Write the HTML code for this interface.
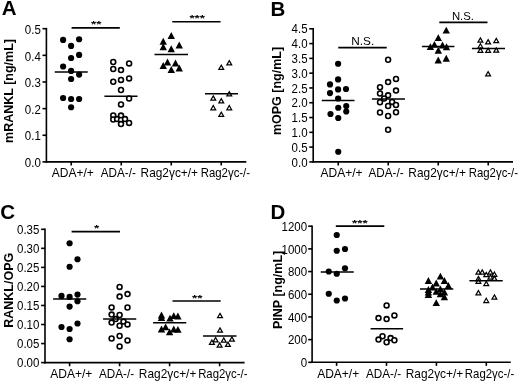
<!DOCTYPE html>
<html><head><meta charset="utf-8"><title>Figure</title>
<style>
html,body{margin:0;padding:0;background:#fff;}
body{width:520px;height:386px;overflow:hidden;}
svg{display:block;filter:blur(0.4px);font-family:'Liberation Sans', Arial, sans-serif;fill:#000;}
</style></head><body>
<svg width="520" height="386" viewBox="0 0 520 386">
<rect width="520" height="386" fill="#fff"/>
<path d="M46.4 27.9V162.7" stroke="#000" stroke-width="1.6" fill="none"/>
<path d="M45.6 161.9H246.3" stroke="#000" stroke-width="1.6" fill="none"/>
<path d="M42.5 161.9H46.4" stroke="#000" stroke-width="1.6" fill="none"/>
<text transform="translate(40.8 167.1) scale(0.92 1)" font-size="12.5" text-anchor="end">0.0</text>
<path d="M42.5 135.26H46.4" stroke="#000" stroke-width="1.6" fill="none"/>
<text transform="translate(40.8 140.46) scale(0.92 1)" font-size="12.5" text-anchor="end">0.1</text>
<path d="M42.5 108.62H46.4" stroke="#000" stroke-width="1.6" fill="none"/>
<text transform="translate(40.8 113.82) scale(0.92 1)" font-size="12.5" text-anchor="end">0.2</text>
<path d="M42.5 81.98H46.4" stroke="#000" stroke-width="1.6" fill="none"/>
<text transform="translate(40.8 87.18) scale(0.92 1)" font-size="12.5" text-anchor="end">0.3</text>
<path d="M42.5 55.34H46.4" stroke="#000" stroke-width="1.6" fill="none"/>
<text transform="translate(40.8 60.54) scale(0.92 1)" font-size="12.5" text-anchor="end">0.4</text>
<path d="M42.5 28.7H46.4" stroke="#000" stroke-width="1.6" fill="none"/>
<text transform="translate(40.8 33.9) scale(0.92 1)" font-size="12.5" text-anchor="end">0.5</text>
<path d="M71.25 161.9V165.5" stroke="#000" stroke-width="1.6" fill="none"/>
<path d="M121.25 161.9V165.5" stroke="#000" stroke-width="1.6" fill="none"/>
<path d="M171.25 161.9V165.5" stroke="#000" stroke-width="1.6" fill="none"/>
<path d="M221.25 161.9V165.5" stroke="#000" stroke-width="1.6" fill="none"/>
<text x="72.8" y="177.2" font-size="12" text-anchor="middle">ADA+/+</text>
<text transform="translate(118.3 177.2) scale(0.975 1)" font-size="12" text-anchor="middle">ADA-/-</text>
<text transform="translate(169.3 177.2) scale(0.99 1)" font-size="12" text-anchor="middle">Rag2γc+/+</text>
<text transform="translate(225.4 177.2) scale(0.95 1)" font-size="12" text-anchor="middle">Rag2γc-/-</text>
<text x="1.8" y="15.2" font-size="20.5" text-anchor="start" font-weight="bold">A</text>
<text transform="translate(12.6 91) rotate(-90)" font-size="12.5" font-weight="bold" text-anchor="middle">mRANKL [ng/mL]</text>
<circle cx="63.1" cy="39.9" r="3.1"/>
<circle cx="79.1" cy="39.25" r="3.1"/>
<circle cx="71.1" cy="45.9" r="3.1"/>
<circle cx="79.1" cy="54.9" r="3.1"/>
<circle cx="71.1" cy="58" r="3.1"/>
<circle cx="63.1" cy="66.5" r="3.1"/>
<circle cx="71.1" cy="70.9" r="3.1"/>
<circle cx="79.1" cy="74.6" r="3.1"/>
<circle cx="71.1" cy="79" r="3.1"/>
<circle cx="63.1" cy="98" r="3.1"/>
<circle cx="71.1" cy="99" r="3.1"/>
<circle cx="79.1" cy="99" r="3.1"/>
<circle cx="71.1" cy="107.25" r="3.1"/>
<path d="M54.75 72H87.75" stroke="#000" stroke-width="1.5" fill="none"/>
<circle cx="113.25" cy="62" r="2.45" fill="#fff" stroke="#000" stroke-width="1.6"/>
<circle cx="129.1" cy="63.4" r="2.45" fill="#fff" stroke="#000" stroke-width="1.6"/>
<circle cx="113.25" cy="69" r="2.45" fill="#fff" stroke="#000" stroke-width="1.6"/>
<circle cx="121" cy="70.1" r="2.45" fill="#fff" stroke="#000" stroke-width="1.6"/>
<circle cx="121" cy="79.9" r="2.45" fill="#fff" stroke="#000" stroke-width="1.6"/>
<circle cx="113.25" cy="81.75" r="2.45" fill="#fff" stroke="#000" stroke-width="1.6"/>
<circle cx="129.1" cy="78.4" r="2.45" fill="#fff" stroke="#000" stroke-width="1.6"/>
<circle cx="121" cy="90" r="2.45" fill="#fff" stroke="#000" stroke-width="1.6"/>
<circle cx="129.1" cy="98.5" r="2.45" fill="#fff" stroke="#000" stroke-width="1.6"/>
<circle cx="121" cy="104.4" r="2.45" fill="#fff" stroke="#000" stroke-width="1.6"/>
<circle cx="113.25" cy="115.4" r="2.45" fill="#fff" stroke="#000" stroke-width="1.6"/>
<circle cx="121" cy="115.6" r="2.45" fill="#fff" stroke="#000" stroke-width="1.6"/>
<circle cx="113.25" cy="119.5" r="2.45" fill="#fff" stroke="#000" stroke-width="1.6"/>
<circle cx="117.1" cy="119.1" r="2.45" fill="#fff" stroke="#000" stroke-width="1.6"/>
<circle cx="121" cy="120" r="2.45" fill="#fff" stroke="#000" stroke-width="1.6"/>
<circle cx="125" cy="119.1" r="2.45" fill="#fff" stroke="#000" stroke-width="1.6"/>
<circle cx="121" cy="124.1" r="2.45" fill="#fff" stroke="#000" stroke-width="1.6"/>
<circle cx="129.1" cy="122.9" r="2.45" fill="#fff" stroke="#000" stroke-width="1.6"/>
<path d="M104.4 96.25H137.5" stroke="#000" stroke-width="1.5" fill="none"/>
<path d="M171.25 32.05L174.95 38.95H167.55Z"/>
<path d="M163.25 37.8L166.95 44.7H159.55Z"/>
<path d="M163.25 43.35L166.95 50.25H159.55Z"/>
<path d="M179.25 41.55L182.95 48.45H175.55Z"/>
<path d="M171.25 45.3L174.95 52.2H167.55Z"/>
<path d="M167.5 58.55L171.2 65.45H163.8Z"/>
<path d="M163.25 62.05L166.95 68.95H159.55Z"/>
<path d="M175.5 59.55L179.2 66.45H171.8Z"/>
<path d="M171.25 66.05L174.95 72.95H167.55Z"/>
<path d="M179.25 64.55L182.95 71.45H175.55Z"/>
<path d="M154.5 54.5H188" stroke="#000" stroke-width="1.5" fill="none"/>
<path d="M221.25 65.16L223.7 69.46H218.8Z" fill="#fff" stroke="#000" stroke-width="1.2" stroke-linejoin="miter"/>
<path d="M229.25 60.66L231.7 64.96H226.8Z" fill="#fff" stroke="#000" stroke-width="1.2" stroke-linejoin="miter"/>
<path d="M229.25 91.66L231.7 95.96H226.8Z" fill="#fff" stroke="#000" stroke-width="1.2" stroke-linejoin="miter"/>
<path d="M213.25 95.86L215.7 100.16H210.8Z" fill="#fff" stroke="#000" stroke-width="1.2" stroke-linejoin="miter"/>
<path d="M221.25 98.66L223.7 102.96H218.8Z" fill="#fff" stroke="#000" stroke-width="1.2" stroke-linejoin="miter"/>
<path d="M213.25 105.56L215.7 109.86H210.8Z" fill="#fff" stroke="#000" stroke-width="1.2" stroke-linejoin="miter"/>
<path d="M229.25 105.56L231.7 109.86H226.8Z" fill="#fff" stroke="#000" stroke-width="1.2" stroke-linejoin="miter"/>
<path d="M221.25 112.16L223.7 116.46H218.8Z" fill="#fff" stroke="#000" stroke-width="1.2" stroke-linejoin="miter"/>
<path d="M205 93.75H238" stroke="#000" stroke-width="1.5" fill="none"/>
<path d="M71.6 27.8H119.8" stroke="#000" stroke-width="1.8" fill="none"/>
<text transform="translate(96.2 27.2) scale(1.03 0.7)" font-size="13" font-weight="bold" text-anchor="middle">**</text>
<path d="M172.3 21.7H220.6" stroke="#000" stroke-width="1.6" fill="none"/>
<text transform="translate(197.2 21.1) scale(1.03 0.7)" font-size="13" font-weight="bold" text-anchor="middle">***</text>
<path d="M313.2 28V162.7" stroke="#000" stroke-width="1.6" fill="none"/>
<path d="M312.4 161.9H513" stroke="#000" stroke-width="1.6" fill="none"/>
<path d="M309.3 161.9H313.2" stroke="#000" stroke-width="1.6" fill="none"/>
<text transform="translate(307.6 166.5) scale(0.92 1)" font-size="12.5" text-anchor="end">0.0</text>
<path d="M309.3 147.11H313.2" stroke="#000" stroke-width="1.6" fill="none"/>
<text transform="translate(307.6 151.71) scale(0.92 1)" font-size="12.5" text-anchor="end">0.5</text>
<path d="M309.3 132.32H313.2" stroke="#000" stroke-width="1.6" fill="none"/>
<text transform="translate(307.6 136.92) scale(0.92 1)" font-size="12.5" text-anchor="end">1.0</text>
<path d="M309.3 117.53H313.2" stroke="#000" stroke-width="1.6" fill="none"/>
<text transform="translate(307.6 122.13) scale(0.92 1)" font-size="12.5" text-anchor="end">1.5</text>
<path d="M309.3 102.74H313.2" stroke="#000" stroke-width="1.6" fill="none"/>
<text transform="translate(307.6 107.34) scale(0.92 1)" font-size="12.5" text-anchor="end">2.0</text>
<path d="M309.3 87.96H313.2" stroke="#000" stroke-width="1.6" fill="none"/>
<text transform="translate(307.6 92.56) scale(0.92 1)" font-size="12.5" text-anchor="end">2.5</text>
<path d="M309.3 73.17H313.2" stroke="#000" stroke-width="1.6" fill="none"/>
<text transform="translate(307.6 77.77) scale(0.92 1)" font-size="12.5" text-anchor="end">3.0</text>
<path d="M309.3 58.38H313.2" stroke="#000" stroke-width="1.6" fill="none"/>
<text transform="translate(307.6 62.98) scale(0.92 1)" font-size="12.5" text-anchor="end">3.5</text>
<path d="M309.3 43.59H313.2" stroke="#000" stroke-width="1.6" fill="none"/>
<text transform="translate(307.6 48.19) scale(0.92 1)" font-size="12.5" text-anchor="end">4.0</text>
<path d="M309.3 28.8H313.2" stroke="#000" stroke-width="1.6" fill="none"/>
<text transform="translate(307.6 33.4) scale(0.92 1)" font-size="12.5" text-anchor="end">4.5</text>
<path d="M338.25 161.9V165.5" stroke="#000" stroke-width="1.6" fill="none"/>
<path d="M388.25 161.9V165.5" stroke="#000" stroke-width="1.6" fill="none"/>
<path d="M438.25 161.9V165.5" stroke="#000" stroke-width="1.6" fill="none"/>
<path d="M488.25 161.9V165.5" stroke="#000" stroke-width="1.6" fill="none"/>
<text x="341.6" y="177" font-size="12" text-anchor="middle">ADA+/+</text>
<text transform="translate(386 177) scale(0.975 1)" font-size="12" text-anchor="middle">ADA-/-</text>
<text transform="translate(437.1 177) scale(0.99 1)" font-size="12" text-anchor="middle">Rag2γc+/+</text>
<text transform="translate(493.4 177) scale(0.95 1)" font-size="12" text-anchor="middle">Rag2γc-/-</text>
<text x="270.5" y="15.6" font-size="20.5" text-anchor="start" font-weight="bold">B</text>
<text transform="translate(281.4 91) rotate(-90)" font-size="12.5" font-weight="bold" text-anchor="middle">mOPG [ng/mL]</text>
<circle cx="338.1" cy="63.75" r="3.1"/>
<circle cx="338.1" cy="79.4" r="3.1"/>
<circle cx="330" cy="84.4" r="3.1"/>
<circle cx="338.1" cy="89.4" r="3.1"/>
<circle cx="346" cy="89" r="3.1"/>
<circle cx="330" cy="93.1" r="3.1"/>
<circle cx="338.1" cy="98.5" r="3.1"/>
<circle cx="338.25" cy="107.75" r="3.1"/>
<circle cx="346.25" cy="106" r="3.1"/>
<circle cx="346.25" cy="111.5" r="3.1"/>
<circle cx="330.5" cy="114" r="3.1"/>
<circle cx="338.25" cy="118" r="3.1"/>
<circle cx="338.25" cy="151.75" r="3.1"/>
<path d="M321.75 100.5H354.5" stroke="#000" stroke-width="1.5" fill="none"/>
<circle cx="388.1" cy="59.75" r="2.45" fill="#fff" stroke="#000" stroke-width="1.6"/>
<circle cx="396" cy="79" r="2.45" fill="#fff" stroke="#000" stroke-width="1.6"/>
<circle cx="388.1" cy="82.1" r="2.45" fill="#fff" stroke="#000" stroke-width="1.6"/>
<circle cx="380" cy="87.25" r="2.45" fill="#fff" stroke="#000" stroke-width="1.6"/>
<circle cx="396" cy="90.6" r="2.45" fill="#fff" stroke="#000" stroke-width="1.6"/>
<circle cx="380" cy="93.5" r="2.45" fill="#fff" stroke="#000" stroke-width="1.6"/>
<circle cx="388.1" cy="95.3" r="2.45" fill="#fff" stroke="#000" stroke-width="1.6"/>
<circle cx="384.1" cy="98.5" r="2.45" fill="#fff" stroke="#000" stroke-width="1.6"/>
<circle cx="380" cy="102.25" r="2.45" fill="#fff" stroke="#000" stroke-width="1.6"/>
<circle cx="392.1" cy="101.9" r="2.45" fill="#fff" stroke="#000" stroke-width="1.6"/>
<circle cx="396" cy="105" r="2.45" fill="#fff" stroke="#000" stroke-width="1.6"/>
<circle cx="388.1" cy="106" r="2.45" fill="#fff" stroke="#000" stroke-width="1.6"/>
<circle cx="380" cy="112.5" r="2.45" fill="#fff" stroke="#000" stroke-width="1.6"/>
<circle cx="396" cy="112.25" r="2.45" fill="#fff" stroke="#000" stroke-width="1.6"/>
<circle cx="388.1" cy="116" r="2.45" fill="#fff" stroke="#000" stroke-width="1.6"/>
<circle cx="388.1" cy="129.75" r="2.45" fill="#fff" stroke="#000" stroke-width="1.6"/>
<path d="M371.9 99.1H405" stroke="#000" stroke-width="1.5" fill="none"/>
<path d="M446.25 26.65L449.95 33.55H442.55Z"/>
<path d="M438.3 34.15L442 41.05H434.6Z"/>
<path d="M430.4 43.15L434.1 50.05H426.7Z"/>
<path d="M434.4 40.95L438.1 47.85H430.7Z"/>
<path d="M442.5 41.55L446.2 48.45H438.8Z"/>
<path d="M446.5 43.35L450.2 50.25H442.8Z"/>
<path d="M438.3 46.85L442 53.75H434.6Z"/>
<path d="M438.25 56.55L441.95 63.45H434.55Z"/>
<path d="M446.25 54.8L449.95 61.7H442.55Z"/>
<path d="M421.9 46.6H454.4" stroke="#000" stroke-width="1.5" fill="none"/>
<path d="M480.4 37.91L482.85 42.21H477.95Z" fill="#fff" stroke="#000" stroke-width="1.2" stroke-linejoin="miter"/>
<path d="M488.1 39.66L490.55 43.96H485.65Z" fill="#fff" stroke="#000" stroke-width="1.2" stroke-linejoin="miter"/>
<path d="M496.25 38.41L498.7 42.71H493.8Z" fill="#fff" stroke="#000" stroke-width="1.2" stroke-linejoin="miter"/>
<path d="M480.4 43.76L482.85 48.06H477.95Z" fill="#fff" stroke="#000" stroke-width="1.2" stroke-linejoin="miter"/>
<path d="M480.4 48.16L482.85 52.46H477.95Z" fill="#fff" stroke="#000" stroke-width="1.2" stroke-linejoin="miter"/>
<path d="M488.1 48.16L490.55 52.46H485.65Z" fill="#fff" stroke="#000" stroke-width="1.2" stroke-linejoin="miter"/>
<path d="M496.25 47.91L498.7 52.21H493.8Z" fill="#fff" stroke="#000" stroke-width="1.2" stroke-linejoin="miter"/>
<path d="M488.1 71.66L490.55 75.96H485.65Z" fill="#fff" stroke="#000" stroke-width="1.2" stroke-linejoin="miter"/>
<path d="M471.9 48.6H505" stroke="#000" stroke-width="1.5" fill="none"/>
<path d="M338.25 47.6H386.75" stroke="#000" stroke-width="1.6" fill="none"/>
<text x="362.8" y="45.3" font-size="11.8" text-anchor="middle">N.S.</text>
<path d="M439.3 22.4H487.5" stroke="#000" stroke-width="1.6" fill="none"/>
<text x="462.9" y="20.2" font-size="11.3" text-anchor="middle">N.S.</text>
<path d="M45 228.5V363.4" stroke="#000" stroke-width="1.6" fill="none"/>
<path d="M44.2 362.6H244.6" stroke="#000" stroke-width="1.6" fill="none"/>
<path d="M41.1 362.6H45" stroke="#000" stroke-width="1.6" fill="none"/>
<text transform="translate(39.4 367.2) scale(0.92 1)" font-size="12.5" text-anchor="end">0.00</text>
<path d="M41.1 343.56H45" stroke="#000" stroke-width="1.6" fill="none"/>
<text transform="translate(39.4 348.16) scale(0.92 1)" font-size="12.5" text-anchor="end">0.05</text>
<path d="M41.1 324.51H45" stroke="#000" stroke-width="1.6" fill="none"/>
<text transform="translate(39.4 329.11) scale(0.92 1)" font-size="12.5" text-anchor="end">0.10</text>
<path d="M41.1 305.47H45" stroke="#000" stroke-width="1.6" fill="none"/>
<text transform="translate(39.4 310.07) scale(0.92 1)" font-size="12.5" text-anchor="end">0.15</text>
<path d="M41.1 286.43H45" stroke="#000" stroke-width="1.6" fill="none"/>
<text transform="translate(39.4 291.03) scale(0.92 1)" font-size="12.5" text-anchor="end">0.20</text>
<path d="M41.1 267.39H45" stroke="#000" stroke-width="1.6" fill="none"/>
<text transform="translate(39.4 271.99) scale(0.92 1)" font-size="12.5" text-anchor="end">0.25</text>
<path d="M41.1 248.34H45" stroke="#000" stroke-width="1.6" fill="none"/>
<text transform="translate(39.4 252.94) scale(0.92 1)" font-size="12.5" text-anchor="end">0.30</text>
<path d="M41.1 229.3H45" stroke="#000" stroke-width="1.6" fill="none"/>
<text transform="translate(39.4 233.9) scale(0.92 1)" font-size="12.5" text-anchor="end">0.35</text>
<path d="M69.6 362.6V366.2" stroke="#000" stroke-width="1.6" fill="none"/>
<path d="M119.6 362.6V366.2" stroke="#000" stroke-width="1.6" fill="none"/>
<path d="M169.6 362.6V366.2" stroke="#000" stroke-width="1.6" fill="none"/>
<path d="M219.6 362.6V366.2" stroke="#000" stroke-width="1.6" fill="none"/>
<text x="71.3" y="377.5" font-size="12" text-anchor="middle">ADA+/+</text>
<text transform="translate(116.6 377.5) scale(0.975 1)" font-size="12" text-anchor="middle">ADA-/-</text>
<text transform="translate(167.6 377.5) scale(0.99 1)" font-size="12" text-anchor="middle">Rag2γc+/+</text>
<text transform="translate(222.8 377.5) scale(0.95 1)" font-size="12" text-anchor="middle">Rag2γc-/-</text>
<text x="0.3" y="219.1" font-size="20.5" text-anchor="start" font-weight="bold">C</text>
<text transform="translate(12.5 290.3) rotate(-90)" font-size="12.5" font-weight="bold" text-anchor="middle">RANKL/OPG</text>
<circle cx="69.6" cy="243.25" r="3.1"/>
<circle cx="77.5" cy="259.25" r="3.1"/>
<circle cx="69.6" cy="266.75" r="3.1"/>
<circle cx="61.5" cy="295.9" r="3.1"/>
<circle cx="69.6" cy="296.9" r="3.1"/>
<circle cx="77.5" cy="294.6" r="3.1"/>
<circle cx="77.5" cy="301.25" r="3.1"/>
<circle cx="69.6" cy="306.6" r="3.1"/>
<circle cx="77.5" cy="323.5" r="3.1"/>
<circle cx="61.5" cy="327" r="3.1"/>
<circle cx="69.6" cy="329" r="3.1"/>
<circle cx="69.6" cy="339.25" r="3.1"/>
<path d="M53.1 299H86.25" stroke="#000" stroke-width="1.5" fill="none"/>
<circle cx="119.6" cy="286.9" r="2.45" fill="#fff" stroke="#000" stroke-width="1.6"/>
<circle cx="127.5" cy="294.1" r="2.45" fill="#fff" stroke="#000" stroke-width="1.6"/>
<circle cx="119.6" cy="296.6" r="2.45" fill="#fff" stroke="#000" stroke-width="1.6"/>
<circle cx="111.6" cy="307.4" r="2.45" fill="#fff" stroke="#000" stroke-width="1.6"/>
<circle cx="127.5" cy="307.5" r="2.45" fill="#fff" stroke="#000" stroke-width="1.6"/>
<circle cx="111.6" cy="314.6" r="2.45" fill="#fff" stroke="#000" stroke-width="1.6"/>
<circle cx="119.6" cy="315" r="2.45" fill="#fff" stroke="#000" stroke-width="1.6"/>
<circle cx="115.6" cy="319.1" r="2.45" fill="#fff" stroke="#000" stroke-width="1.6"/>
<circle cx="111.6" cy="322.6" r="2.45" fill="#fff" stroke="#000" stroke-width="1.6"/>
<circle cx="123.5" cy="321.6" r="2.45" fill="#fff" stroke="#000" stroke-width="1.6"/>
<circle cx="127.5" cy="324.4" r="2.45" fill="#fff" stroke="#000" stroke-width="1.6"/>
<circle cx="119.6" cy="325.75" r="2.45" fill="#fff" stroke="#000" stroke-width="1.6"/>
<circle cx="111.6" cy="338.5" r="2.45" fill="#fff" stroke="#000" stroke-width="1.6"/>
<circle cx="119.6" cy="336" r="2.45" fill="#fff" stroke="#000" stroke-width="1.6"/>
<circle cx="127.5" cy="340.4" r="2.45" fill="#fff" stroke="#000" stroke-width="1.6"/>
<circle cx="119.6" cy="346.4" r="2.45" fill="#fff" stroke="#000" stroke-width="1.6"/>
<path d="M103.1 318.9H136.25" stroke="#000" stroke-width="1.5" fill="none"/>
<path d="M161.5 311.55L165.2 318.45H157.8Z"/>
<path d="M161.5 314.05L165.2 320.95H157.8Z"/>
<path d="M170 314.65L173.7 321.55H166.3Z"/>
<path d="M173.75 312.15L177.45 319.05H170.05Z"/>
<path d="M177.9 312.55L181.6 319.45H174.2Z"/>
<path d="M161.5 325.55L165.2 332.45H157.8Z"/>
<path d="M165.6 323.45L169.3 330.35H161.9Z"/>
<path d="M169.6 328.45L173.3 335.35H165.9Z"/>
<path d="M173.75 325.55L177.45 332.45H170.05Z"/>
<path d="M177.9 325.95L181.6 332.85H174.2Z"/>
<path d="M153.1 322.75H186.25" stroke="#000" stroke-width="1.5" fill="none"/>
<path d="M220 313.41L222.45 317.71H217.55Z" fill="#fff" stroke="#000" stroke-width="1.2" stroke-linejoin="miter"/>
<path d="M220 327.91L222.45 332.21H217.55Z" fill="#fff" stroke="#000" stroke-width="1.2" stroke-linejoin="miter"/>
<path d="M215.6 337.56L218.05 341.86H213.15Z" fill="#fff" stroke="#000" stroke-width="1.2" stroke-linejoin="miter"/>
<path d="M223.75 337.91L226.2 342.21H221.3Z" fill="#fff" stroke="#000" stroke-width="1.2" stroke-linejoin="miter"/>
<path d="M231.9 336.91L234.35 341.21H229.45Z" fill="#fff" stroke="#000" stroke-width="1.2" stroke-linejoin="miter"/>
<path d="M211.9 340.06L214.35 344.36H209.45Z" fill="#fff" stroke="#000" stroke-width="1.2" stroke-linejoin="miter"/>
<path d="M219.6 342.91L222.05 347.21H217.15Z" fill="#fff" stroke="#000" stroke-width="1.2" stroke-linejoin="miter"/>
<path d="M227.9 342.16L230.35 346.46H225.45Z" fill="#fff" stroke="#000" stroke-width="1.2" stroke-linejoin="miter"/>
<path d="M203.1 335.9H236.5" stroke="#000" stroke-width="1.5" fill="none"/>
<path d="M71.6 231.7H120" stroke="#000" stroke-width="1.7" fill="none"/>
<text transform="translate(96.5 231.1) scale(1.03 0.7)" font-size="13" font-weight="bold" text-anchor="middle">*</text>
<path d="M172.5 301H220.7" stroke="#000" stroke-width="1.7" fill="none"/>
<text transform="translate(197.3 300.9) scale(1.03 0.7)" font-size="13" font-weight="bold" text-anchor="middle">**</text>
<path d="M312.1 225.4V363.1" stroke="#000" stroke-width="1.6" fill="none"/>
<path d="M311.3 362.3H510.8" stroke="#000" stroke-width="1.6" fill="none"/>
<path d="M308.2 362.3H312.1" stroke="#000" stroke-width="1.6" fill="none"/>
<text transform="translate(307.1 367.1) scale(0.92 1)" font-size="12.5" text-anchor="end">0</text>
<path d="M308.2 339.62H312.1" stroke="#000" stroke-width="1.6" fill="none"/>
<text transform="translate(307.1 344.42) scale(0.92 1)" font-size="12.5" text-anchor="end">200</text>
<path d="M308.2 316.93H312.1" stroke="#000" stroke-width="1.6" fill="none"/>
<text transform="translate(307.1 321.73) scale(0.92 1)" font-size="12.5" text-anchor="end">400</text>
<path d="M308.2 294.25H312.1" stroke="#000" stroke-width="1.6" fill="none"/>
<text transform="translate(307.1 299.05) scale(0.92 1)" font-size="12.5" text-anchor="end">600</text>
<path d="M308.2 271.57H312.1" stroke="#000" stroke-width="1.6" fill="none"/>
<text transform="translate(307.1 276.37) scale(0.92 1)" font-size="12.5" text-anchor="end">800</text>
<path d="M308.2 248.88H312.1" stroke="#000" stroke-width="1.6" fill="none"/>
<text transform="translate(307.1 253.68) scale(0.92 1)" font-size="12.5" text-anchor="end">1000</text>
<path d="M308.2 226.2H312.1" stroke="#000" stroke-width="1.6" fill="none"/>
<text transform="translate(307.1 231) scale(0.92 1)" font-size="12.5" text-anchor="end">1200</text>
<path d="M336.6 362.3V365.9" stroke="#000" stroke-width="1.6" fill="none"/>
<path d="M386.5 362.3V365.9" stroke="#000" stroke-width="1.6" fill="none"/>
<path d="M436.4 362.3V365.9" stroke="#000" stroke-width="1.6" fill="none"/>
<path d="M486.3 362.3V365.9" stroke="#000" stroke-width="1.6" fill="none"/>
<text x="338.2" y="377.5" font-size="12" text-anchor="middle">ADA+/+</text>
<text transform="translate(383.5 377.5) scale(0.975 1)" font-size="12" text-anchor="middle">ADA-/-</text>
<text transform="translate(434.5 377.5) scale(0.99 1)" font-size="12" text-anchor="middle">Rag2γc+/+</text>
<text transform="translate(489.5 377.5) scale(0.95 1)" font-size="12" text-anchor="middle">Rag2γc-/-</text>
<text x="270.5" y="218.6" font-size="20.5" text-anchor="start" font-weight="bold">D</text>
<text transform="translate(282.2 289.9) rotate(-90)" font-size="12.5" font-weight="bold" text-anchor="middle">PINP [ng/mL]</text>
<circle cx="336.75" cy="235" r="3.1"/>
<circle cx="336.75" cy="250.75" r="3.1"/>
<circle cx="345" cy="249" r="3.1"/>
<circle cx="345" cy="268.25" r="3.1"/>
<circle cx="328.75" cy="271.5" r="3.1"/>
<circle cx="336.75" cy="273.75" r="3.1"/>
<circle cx="328.75" cy="293.75" r="3.1"/>
<circle cx="336.75" cy="300.5" r="3.1"/>
<circle cx="345" cy="298.5" r="3.1"/>
<path d="M320.75 271.9H353.75" stroke="#000" stroke-width="1.5" fill="none"/>
<circle cx="386.6" cy="305.4" r="2.45" fill="#fff" stroke="#000" stroke-width="1.6"/>
<circle cx="394.4" cy="315.4" r="2.45" fill="#fff" stroke="#000" stroke-width="1.6"/>
<circle cx="378.5" cy="318.1" r="2.45" fill="#fff" stroke="#000" stroke-width="1.6"/>
<circle cx="386.6" cy="319.1" r="2.45" fill="#fff" stroke="#000" stroke-width="1.6"/>
<circle cx="382.5" cy="336.25" r="2.45" fill="#fff" stroke="#000" stroke-width="1.6"/>
<circle cx="378.5" cy="339.6" r="2.45" fill="#fff" stroke="#000" stroke-width="1.6"/>
<circle cx="390.6" cy="338.1" r="2.45" fill="#fff" stroke="#000" stroke-width="1.6"/>
<circle cx="394.4" cy="340.25" r="2.45" fill="#fff" stroke="#000" stroke-width="1.6"/>
<circle cx="386.6" cy="342.25" r="2.45" fill="#fff" stroke="#000" stroke-width="1.6"/>
<path d="M370.6 328.75H403.1" stroke="#000" stroke-width="1.5" fill="none"/>
<path d="M440.4 272.65L444.1 279.55H436.7Z"/>
<path d="M428.4 277.05L432.1 283.95H424.7Z"/>
<path d="M444.4 277.05L448.1 283.95H440.7Z"/>
<path d="M436.25 279.55L439.95 286.45H432.55Z"/>
<path d="M448.4 282.05L452.1 288.95H444.7Z"/>
<path d="M428.4 286.05L432.1 292.95H424.7Z"/>
<path d="M428.4 288.55L432.1 295.45H424.7Z"/>
<path d="M428.4 291.05L432.1 297.95H424.7Z"/>
<path d="M432.5 283.55L436.2 290.45H428.8Z"/>
<path d="M436.25 287.95L439.95 294.85H432.55Z"/>
<path d="M440.4 285.45L444.1 292.35H436.7Z"/>
<path d="M440.4 290.45L444.1 297.35H436.7Z"/>
<path d="M444.4 288.55L448.1 295.45H440.7Z"/>
<path d="M444.4 293.3L448.1 300.2H440.7Z"/>
<path d="M436.25 299.15L439.95 306.05H432.55Z"/>
<path d="M420 288.9H453.3" stroke="#000" stroke-width="1.5" fill="none"/>
<path d="M478.4 269.91L480.85 274.21H475.95Z" fill="#fff" stroke="#000" stroke-width="1.2" stroke-linejoin="miter"/>
<path d="M482.25 269.91L484.7 274.21H479.8Z" fill="#fff" stroke="#000" stroke-width="1.2" stroke-linejoin="miter"/>
<path d="M486.25 272.41L488.7 276.71H483.8Z" fill="#fff" stroke="#000" stroke-width="1.2" stroke-linejoin="miter"/>
<path d="M490.4 269.91L492.85 274.21H487.95Z" fill="#fff" stroke="#000" stroke-width="1.2" stroke-linejoin="miter"/>
<path d="M494.4 272.06L496.85 276.36H491.95Z" fill="#fff" stroke="#000" stroke-width="1.2" stroke-linejoin="miter"/>
<path d="M490.4 274.91L492.85 279.21H487.95Z" fill="#fff" stroke="#000" stroke-width="1.2" stroke-linejoin="miter"/>
<path d="M494.4 276.16L496.85 280.46H491.95Z" fill="#fff" stroke="#000" stroke-width="1.2" stroke-linejoin="miter"/>
<path d="M478.4 276.41L480.85 280.71H475.95Z" fill="#fff" stroke="#000" stroke-width="1.2" stroke-linejoin="miter"/>
<path d="M478.4 279.16L480.85 283.46H475.95Z" fill="#fff" stroke="#000" stroke-width="1.2" stroke-linejoin="miter"/>
<path d="M486.25 281.41L488.7 285.71H483.8Z" fill="#fff" stroke="#000" stroke-width="1.2" stroke-linejoin="miter"/>
<path d="M478.4 290.56L480.85 294.86H475.95Z" fill="#fff" stroke="#000" stroke-width="1.2" stroke-linejoin="miter"/>
<path d="M494.4 294.91L496.85 299.21H491.95Z" fill="#fff" stroke="#000" stroke-width="1.2" stroke-linejoin="miter"/>
<path d="M486.25 298.26L488.7 302.56H483.8Z" fill="#fff" stroke="#000" stroke-width="1.2" stroke-linejoin="miter"/>
<path d="M469.4 280.75H502.75" stroke="#000" stroke-width="1.5" fill="none"/>
<path d="M335.8 226.1H384.3" stroke="#000" stroke-width="1.8" fill="none"/>
<text transform="translate(359.8 225.5) scale(1.03 0.7)" font-size="13" font-weight="bold" text-anchor="middle">***</text>
</svg>
</body></html>
